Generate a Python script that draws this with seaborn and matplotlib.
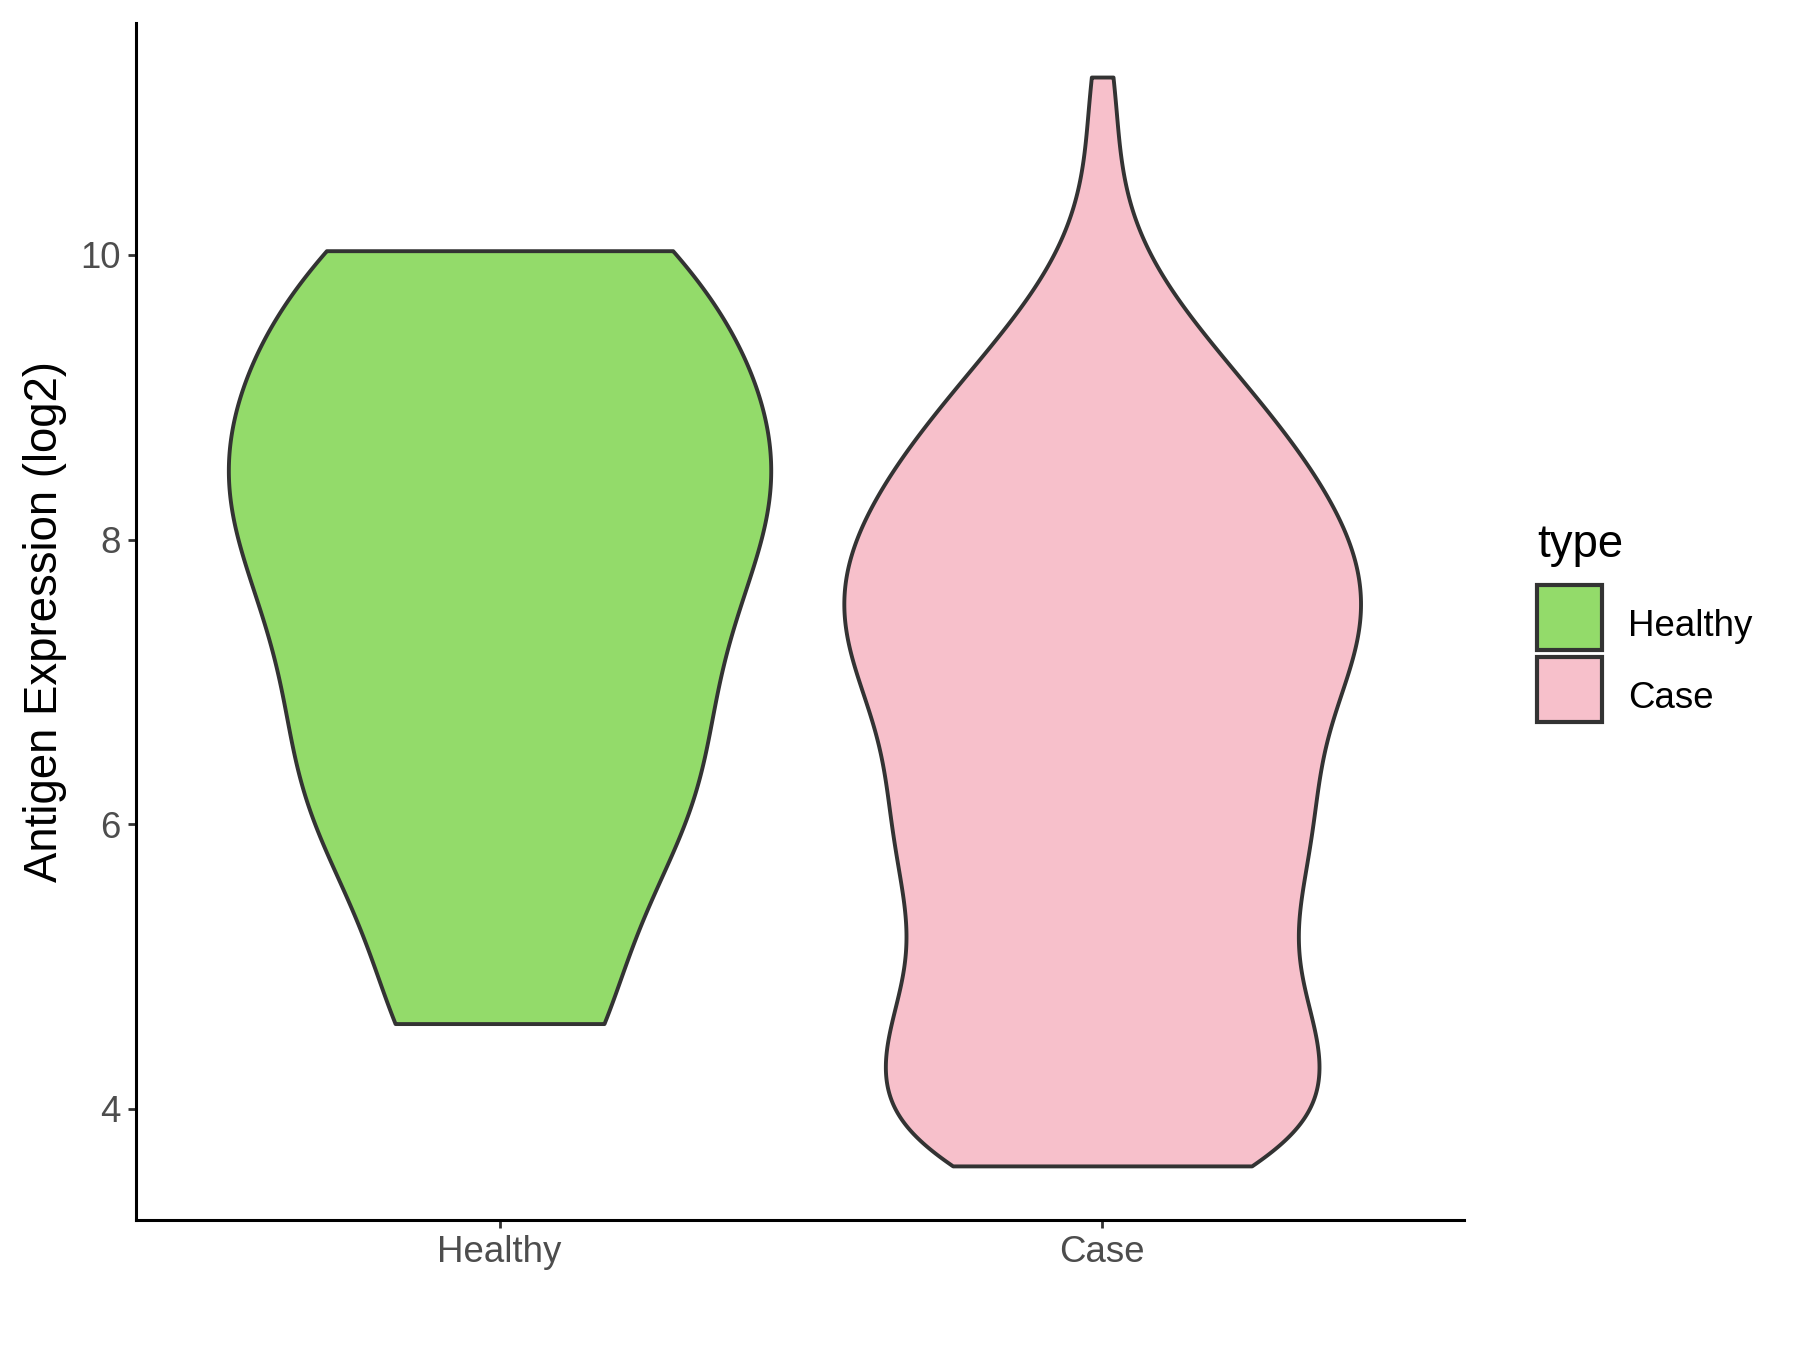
import numpy as np
import pandas as pd
import matplotlib
matplotlib.use("Agg")
import matplotlib.pyplot as plt
import seaborn as sns
from matplotlib.patches import Patch, Rectangle
from matplotlib.legend_handler import HandlerPatch

# Expression values (log2) and how many samples sit at each value
healthy_values = [4.6, 6.0, 7.0, 7.9, 8.5, 9.2, 10.03]
healthy_counts = [4, 6, 5, 5, 5, 5, 5]

case_values = [3.6, 3.85, 4.1, 4.35, 4.6, 4.85, 5.1, 5.35, 5.6, 5.85, 6.1,
               6.35, 6.6, 6.85, 7.1, 7.35, 7.6, 7.85, 8.1, 8.35, 8.6, 8.85,
               9.1, 9.35, 9.6, 9.85, 10.1, 10.35, 10.6, 10.85, 11.05, 11.25]
case_counts = [52, 40, 41, 45, 41, 36, 34, 36, 38, 40, 41,
               40, 40, 44, 48, 50, 51, 50, 46, 43, 38, 33,
               27, 21, 15, 10, 6, 4, 3, 2, 2, 4]

groups = ["Healthy", "Case"]
colors = {"Healthy": "#93DB6A", "Case": "#F7C0CB"}
edge = "#333333"


def nrd0_factor(kde):
    """R's bw.nrd0 (what ggplot uses), as a scipy covariance factor"""
    x = kde.dataset.ravel()
    sd = x.std(ddof=1)
    iqr = np.subtract(*np.percentile(x, [75, 25]))
    bw = 0.9 * min(sd, iqr / 1.34) * len(x) ** -0.2
    return bw / sd


def full_key(legend, orig_handle, xdescent, ydescent, width, height, fontsize):
    # square key filling the whole handle box, like ggplot
    return Rectangle((-xdescent, -ydescent), width, height + ydescent)


df = pd.DataFrame({
    "type": ["Healthy"] * sum(healthy_counts) + ["Case"] * sum(case_counts),
    "value": np.concatenate([np.repeat(healthy_values, healthy_counts),
                             np.repeat(case_values, case_counts)]),
})

sns.set_theme(style="ticks")
plt.rcParams["font.family"] = ["Liberation Sans", "DejaVu Sans"]

fig = plt.figure(figsize=(9, 6.75), dpi=200)
ax = fig.add_axes([0.0753, 0.0963, 0.8132 - 0.0753, 0.983 - 0.0963])

sns.violinplot(data=df, x="type", y="value", hue="type", order=groups,
               hue_order=groups, palette=colors, saturation=1, cut=0,
               width=0.9, inner=None, density_norm="area", common_norm=True,
               bw_method=nrd0_factor, gridsize=512, linewidth=1.4,
               linecolor=edge, legend=False, ax=ax)

ax.set_xlim(-0.604, 1.6)
ax.set_ylim(3.22, 11.63)
ax.set_yticks([4, 6, 8, 10])
ax.set_xlabel("")
ax.set_ylabel("Antigen Expression (log2)", fontsize=16.4, color="black",
              labelpad=5)
ax.tick_params(axis="both", labelsize=13.2, labelcolor="#4D4D4D",
               color=edge, length=2.75, width=1.0, pad=2.5)
for side in ["top", "right"]:
    ax.spines[side].set_visible(False)
for side in ["left", "bottom"]:
    ax.spines[side].set_color("black")
    ax.spines[side].set_linewidth(1.1)

handles = [Patch(facecolor=colors[g], edgecolor=edge, linewidth=1.5, label=g)
           for g in groups]
leg = ax.legend(handles=handles, title="type", loc="upper left",
                bbox_to_anchor=(0.854, 0.6125), bbox_transform=fig.transFigure,
                frameon=False, fontsize=13.2, title_fontsize=16.4,
                handlelength=1.77, handleheight=1.77, labelspacing=0.57,
                handletextpad=0.7, borderpad=0, borderaxespad=0,
                alignment="left", labelcolor="black",
                handler_map={Patch: HandlerPatch(patch_func=full_key)})
leg.get_title().set_color("black")
leg._legend_box.sep = 11.3  # gap between title and keys (points)

fig.savefig("out.png", dpi=200, facecolor="white")
